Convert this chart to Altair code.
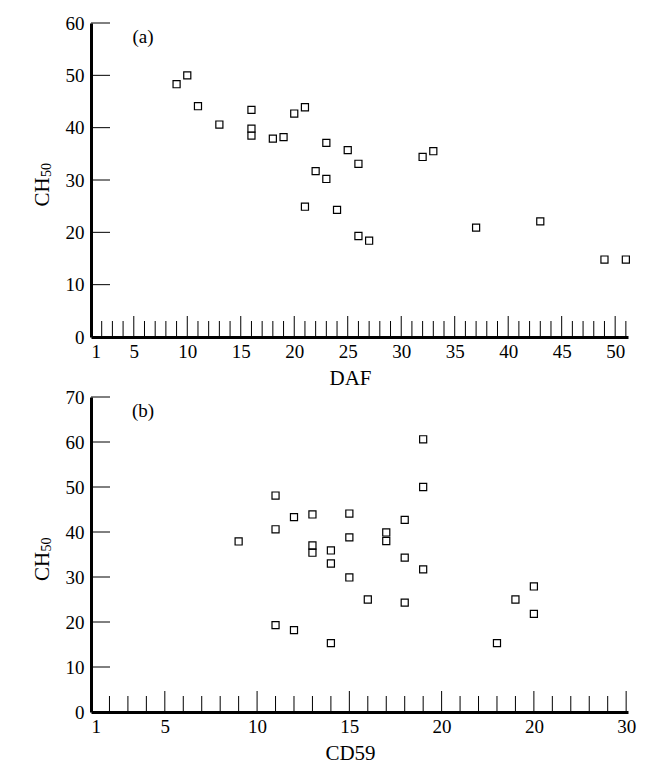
import altair as alt
import pandas as pd

# Panel (a): DAF vs CH50
daf_x = [9, 10, 11, 13, 16, 16, 16, 18, 19, 20, 21, 21, 22, 23, 23, 24, 25, 26, 26, 27, 32, 33, 37, 43, 49, 51]
daf_y = [48.3, 50.0, 44.1, 40.6, 43.4, 39.8, 38.5, 37.9, 38.2, 42.7, 43.9, 24.9, 31.7, 37.1, 30.2, 24.3, 35.7, 33.1, 19.3, 18.4, 34.4, 35.5, 20.9, 22.1, 14.8, 14.8]

# Panel (b): CD59 vs CH50
cd59_x = [9, 11, 11, 11, 12, 12, 13, 13, 13, 14, 14, 14, 15, 15, 15, 16, 17, 17, 18, 18, 18, 19, 19, 19, 23, 24, 25, 25]
cd59_y = [37.9, 48.1, 40.6, 19.3, 43.3, 18.2, 43.9, 37.0, 35.4, 35.9, 33.0, 15.3, 44.1, 38.8, 29.9, 25.0, 39.9, 38.0, 42.7, 34.3, 24.3, 60.6, 50.0, 31.7, 15.3, 25.0, 27.9, 21.8]

# Axis tick labels
daf_labels = [1, 5, 10, 15, 20, 25, 30, 35, 40, 45, 50]
cd59_labels = [1, 5, 10, 15, 20, 25, 30]
ch50_a_labels = [0, 10, 20, 30, 40, 50, 60]
ch50_b_labels = [0, 10, 20, 30, 40, 50, 60, 70]

W = 537
HA = 314
HB = 315
FONT = "Liberation Serif"


def panel(xs, ys, xdom, ydom, xlabels, ylabels, xtitle, tag, h, minor_max, label_expr=None):
    xscale = alt.Scale(domain=xdom, nice=False, zero=False)
    yscale = alt.Scale(domain=ydom, nice=False)
    df = pd.DataFrame({"x": xs, "y": ys})
    xaxis_kwargs = dict(values=xlabels, title=xtitle, titleX=259, titleAlign="center")
    if label_expr:
        xaxis_kwargs["labelExpr"] = label_expr
    pts = alt.Chart(df).mark_point(shape="square", filled=False, size=50, color="black",
                                   strokeWidth=1.2, opacity=1).encode(
        x=alt.X("x:Q", scale=xscale, axis=alt.Axis(**xaxis_kwargs)),
        y=alt.Y("y:Q", scale=yscale, axis=alt.Axis(values=ylabels, title=None)),
    )
    minor = pd.DataFrame({"v": [v for v in range(2, minor_max + 1) if v % 5 != 0]})
    major = pd.DataFrame({"v": [v for v in range(5, minor_max + 1, 5)]})
    minor_r = alt.Chart(minor).mark_rule(color="black", strokeWidth=1).encode(
        x=alt.X("v:Q", scale=xscale), y=alt.value(h), y2=alt.value(h - 16))
    major_r = alt.Chart(major).mark_rule(color="black", strokeWidth=1).encode(
        x=alt.X("v:Q", scale=xscale), y=alt.value(h), y2=alt.value(h - 21))
    yt = pd.DataFrame({"v": [v for v in ylabels if v > 0]})
    yt_r = alt.Chart(yt).mark_rule(color="black", strokeWidth=1).encode(
        y=alt.Y("v:Q", scale=yscale), x=alt.value(0), x2=alt.value(19))
    txt = alt.Chart(pd.DataFrame({"t": [tag]})).mark_text(
        font=FONT, fontSize=19, color="black", align="center", baseline="middle").encode(
        x=alt.value(52), y=alt.value(14), text="t:N")
    # y-axis title "CH" with subscript "50"
    ch = alt.Chart(pd.DataFrame({"t": ["CH"]})).mark_text(
        font=FONT, fontSize=21, color="black", align="center", baseline="alphabetic", angle=270).encode(
        x=alt.value(-42), y=alt.value(h / 2 + 12), text="t:N")
    sub = alt.Chart(pd.DataFrame({"t": ["50"]})).mark_text(
        font=FONT, fontSize=14, color="black", align="center", baseline="alphabetic", angle=270).encode(
        x=alt.value(-40), y=alt.value(h / 2 - 10), text="t:N")
    return alt.layer(minor_r, major_r, yt_r, pts, txt, ch, sub).properties(width=W, height=h)


a = panel(daf_x, daf_y, [1, 51.2], [0, 60], daf_labels, ch50_a_labels, "DAF", "(a)", HA, 51)
b = panel(cd59_x, cd59_y, [1, 30.1], [0, 70], cd59_labels, ch50_b_labels, "CD59", "(b)", HB, 30,
          label_expr="datum.value == 25 ? '20' : datum.label")

chart = alt.vconcat(a, b, spacing=0).properties(
    padding={"left": 24, "top": 6, "right": 5, "bottom": 2}
).configure_view(stroke=None).configure_axis(
    grid=False, ticks=False, domainColor="black", domainWidth=3,
    labelFont=FONT, labelFontSize=19, labelColor="black", labelPadding=5,
    titleFont=FONT, titleFontSize=21, titleFontWeight="normal", titleColor="black",
).configure_axisX(titlePadding=6, labelPadding=5).configure_axisY(
    labelPadding=7, labelAngle=0
)

chart.save("out.html", embed_options={"renderer": "svg", "actions": False})
